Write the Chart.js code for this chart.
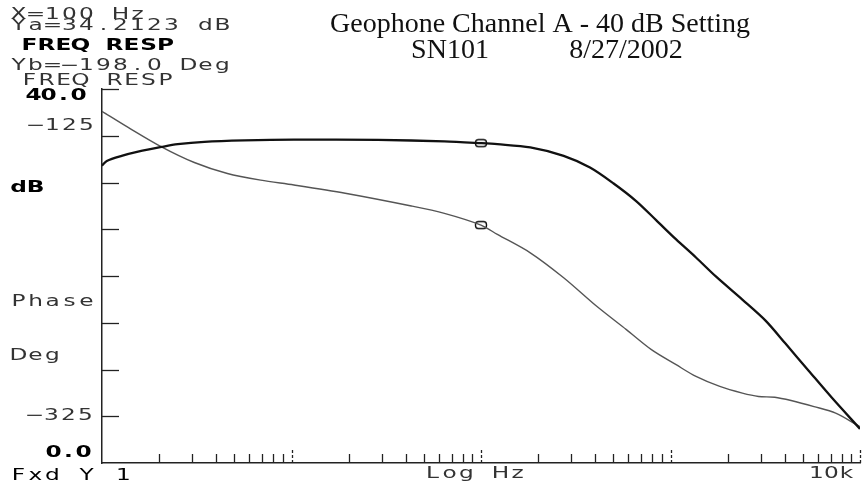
<!DOCTYPE html>
<html><head><meta charset="utf-8">
<script src="https://cdn.jsdelivr.net/npm/chart.js@4.4.1/dist/chart.umd.min.js"></script>
<style>html,body{margin:0;padding:0;background:#fff;}#wrap{width:867px;height:485px;}</style>
</head><body><div id="wrap"><canvas id="c" width="867" height="485"></canvas></div>
<script>
// ---- text ----
const titleText = "Geophone Channel A - 40 dB Setting";
const serialText = "SN101";
const dateText = "8/27/2002";
const readoutLines = ["X=100 Hz", "Ya=34.2123 dB", "FREQ RESP", "Yb=\u2212198.0 Deg", "FREQ RESP"];
const dbAxisLabels = ["40.0", "0.0"];
const dbAxisLabelValues = [40, 0];
const phaseAxisLabels = ["\u2212125", "\u2212325"];
const phaseAxisLabelValues = [-125, -325];
const sideLabels = ["dB", "Phase", "Deg"];
const xAxisLabels = ["Fxd Y", "1", "Log Hz", "10k"];

// ---- data ----
const magFreq = [1, 1.06, 1.27, 1.55, 2.06, 2.51, 3.47, 5.62, 10.3, 28.7, 64.1, 100, 122, 182, 273, 376, 499, 661, 842, 1071, 1363, 1735, 2394, 3174, 4044, 5358, 7110, 10000];
const magDb   = [31.8, 32.3, 32.85, 33.3, 33.8, 34.1, 34.35, 34.5, 34.58, 34.55, 34.4, 34.21, 34.1, 33.75, 32.85, 31.6, 29.92, 27.99, 25.95, 23.91, 21.98, 19.95, 17.48, 15.23, 12.77, 9.87, 6.97, 3.65];
const phaseFreq = [1, 1.374, 2.06, 3.07, 4.59, 6.88, 10.3, 19.2, 42.9, 64.1, 100, 122, 182, 273, 408, 585, 793, 1071, 1363, 1820, 2394, 2914, 3550, 4330, 5720, 7440, 9630, 10000];
const phaseDeg  = [-115.4, -126.5, -139.9, -150.7, -158.3, -162.9, -166.2, -171.9, -180.7, -185.8, -193.9, -200.3, -213.0, -230.2, -249.9, -266.0, -279.8, -290.2, -298.3, -305.2, -309.8, -312.1, -312.6, -314.9, -319.1, -323.6, -331.7, -333.0];
const markerFreq = [100];
const markerDb = [34.21];
const markerDeg = [-193.9];

// ---- axis ticks ----
const dbTicks = [5, 10, 15, 20, 25, 30, 35, 40];
const xDecades = [1, 10, 100, 1000];
const xMinorMultipliers = [2, 3, 4, 5, 6, 7, 8, 9];

// marker image
const mk = document.createElement('canvas');
mk.width = 14; mk.height = 10;
(function(){ const g = mk.getContext('2d'); g.strokeStyle = '#111'; g.lineWidth = 1.4;
  g.beginPath(); g.roundRect(1.5, 1.5, 11, 7, 3); g.stroke(); })();

function hpText(ctx, str, inkX, baseY, o) {
  o = o || {};
  const pitch = o.pitch || 17, sx = o.sx || 1.55, size = o.size || 15;
  const n = str.length, w = n * pitch, pad = (pitch - 13) / 2;
  let x0 = o.align === 'right' ? inkX + pad - w : (o.align === 'center' ? inkX - w / 2 : inkX - pad);
  ctx.save();
  ctx.fillStyle = o.color || '#333';
  ctx.font = (o.weight || 'normal') + ' ' + size + 'px "DejaVu Sans"';
  ctx.textAlign = 'center'; ctx.textBaseline = 'alphabetic';
  for (let i = 0; i < n; i++) {
    const ch = str[i]; if (ch === ' ') continue;
    ctx.save(); ctx.translate(x0 + pitch * (i + 0.5), baseY); ctx.scale(sx, 1);
    ctx.fillText(ch, 0, 0); ctx.restore();
  }
  ctx.restore();
}

const hpPlugin = {
  id: 'hp',
  afterDraw(chart) {
    const ctx = chart.ctx, xs = chart.scales.x, ys = chart.scales.y, ps = chart.scales.y2;
    const L = chart.chartArea.left, B = chart.chartArea.bottom;
    ctx.save();
    ctx.strokeStyle = '#222'; ctx.lineWidth = 1.3;
    dbTicks.forEach(v => { const y = Math.round(ys.getPixelForValue(v)) + 0.5;
      ctx.beginPath(); ctx.moveTo(L, y); ctx.lineTo(L + 17, y); ctx.stroke(); });
    xDecades.forEach(d => {
      xMinorMultipliers.forEach(m => { const x = Math.round(xs.getPixelForValue(d * m)) + 0.5;
        ctx.beginPath(); ctx.moveTo(x, B); ctx.lineTo(x, B - 9); ctx.stroke(); });
      const xd = Math.round(xs.getPixelForValue(d * 10)) + 0.5;
      ctx.save(); ctx.setLineDash([3, 2]);
      ctx.beginPath(); ctx.moveTo(xd, B); ctx.lineTo(xd, B - 14); ctx.stroke(); ctx.restore();
    });
    ctx.restore();

    ctx.save(); ctx.fillStyle = '#111'; ctx.textAlign = 'center'; ctx.textBaseline = 'alphabetic';
    ctx.font = '28px "Liberation Serif"';
    ctx.fillText(titleText, 540, 32);
    ctx.fillText(serialText, 450, 58);
    ctx.fillText(dateText, 626, 58);
    ctx.restore();

    const dark = '#000', light = '#333';
    hpText(ctx, readoutLines[0], 12, 18.5, {color: light});
    hpText(ctx, readoutLines[1], 12, 30, {color: light});
    hpText(ctx, readoutLines[2], 23, 50, {color: dark, weight: 'bold'});
    hpText(ctx, readoutLines[3], 12, 70, {color: light});
    hpText(ctx, readoutLines[4], 23, 85, {color: light});
    hpText(ctx, dbAxisLabels[0], 85, ys.getPixelForValue(dbAxisLabelValues[0]) + 11, {color: dark, weight: 'bold', pitch: 15, align: 'right'});
    hpText(ctx, dbAxisLabels[1], 90, ys.getPixelForValue(dbAxisLabelValues[1]) - 6, {color: dark, weight: 'bold', pitch: 15, align: 'right'});
    hpText(ctx, phaseAxisLabels[0], 93, ps.getPixelForValue(phaseAxisLabelValues[0]) + 5, {color: light, align: 'right'});
    hpText(ctx, phaseAxisLabels[1], 92, ps.getPixelForValue(phaseAxisLabelValues[1]) + 5, {color: light, align: 'right'});
    hpText(ctx, sideLabels[0], 12, 192, {color: dark, weight: 'bold'});
    hpText(ctx, sideLabels[1], 12, 306, {color: light});
    hpText(ctx, sideLabels[2], 12, 360, {color: light});
    hpText(ctx, xAxisLabels[0], 12, 480, {color: dark});
    hpText(ctx, xAxisLabels[1], xs.getPixelForValue(1) + 15, 480, {color: dark});
    hpText(ctx, xAxisLabels[2], (chart.chartArea.left + chart.chartArea.right) / 2 - 6, 478, {color: light, align: 'center'});
    hpText(ctx, xAxisLabels[3], xs.getPixelForValue(10000) - 7, 478, {color: light, align: 'right', pitch: 15});
  }
};

const toXY = (xa, ya) => xa.map((x, i) => ({x: x, y: ya[i]}));

new Chart(document.getElementById('c'), {
  type: 'line',
  data: {
    datasets: [
      { data: toXY(magFreq, magDb), yAxisID: 'y', borderColor: '#111', borderWidth: 2.3, pointRadius: 0, tension: 0.3, fill: false },
      { data: toXY(phaseFreq, phaseDeg), yAxisID: 'y2', borderColor: '#555', borderWidth: 1.4, pointRadius: 0, tension: 0.3, fill: false },
      { data: toXY(markerFreq, markerDb), yAxisID: 'y', showLine: false, pointStyle: mk, pointRadius: 6 },
      { data: toXY(markerFreq, markerDeg), yAxisID: 'y2', showLine: false, pointStyle: mk, pointRadius: 6 }
    ]
  },
  options: {
    responsive: false, animation: false, devicePixelRatio: 1,
    layout: { padding: { left: 102, right: 2, top: 89, bottom: 22 } },
    plugins: { legend: { display: false }, tooltip: { enabled: false }, title: { display: false } },
    scales: {
      x: { type: 'logarithmic', min: 1, max: 10000, ticks: { display: false },
           grid: { display: false, drawTicks: false }, border: { display: true, color: '#222', width: 1.5 } },
      y: { type: 'linear', min: 0, max: 40, ticks: { display: false },
           grid: { display: false, drawTicks: false }, border: { display: true, color: '#222', width: 1.5 } },
      y2: { type: 'linear', min: -358, max: -100, display: false }
    }
  },
  plugins: [hpPlugin]
});
</script>
</body></html>
